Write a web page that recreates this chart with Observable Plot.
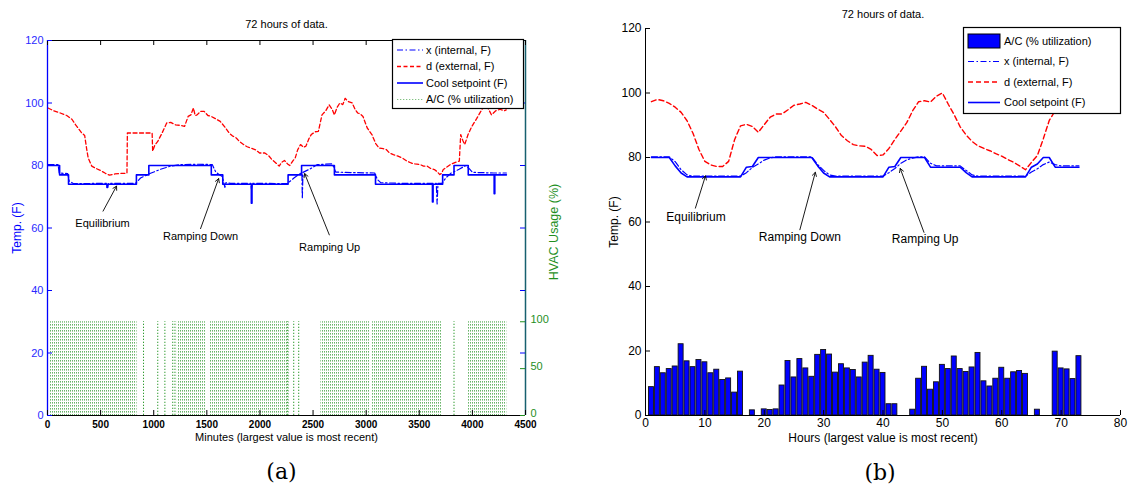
<!DOCTYPE html>
<html>
<head>
<meta charset="utf-8">
<script src="https://cdn.jsdelivr.net/npm/d3@7"></script>
<script src="https://cdn.jsdelivr.net/npm/@observablehq/plot@0.6"></script>
<style>
  body { margin: 0; background: #fff; }
  #root { position: relative; width: 1131px; height: 486px; overflow: hidden; background: #fff;
          font-family: "Liberation Sans", Arial, Helvetica, sans-serif; }
  #root > svg { position: absolute; top: 0; }
</style>
</head>
<body>
<div id="root"></div>
<script>
// ---------- Panel (a): minute-resolution trace ----------
const minuteTicks = [0, 500, 1000, 1500, 2000, 2500, 3000, 3500, 4000, 4500];
const tempTicks = [0, 20, 40, 60, 80, 100, 120];
const hvacTicks = [0, 50, 100];

// cool setpoint [minute, F] (drawn as a step line, short dips included)
const setpointMin = [[5,80],[114,77],[198,74],[560,73],[566,74],[837,77],[954,80],[1542,77],[1650,74],
  [1919,67.9],[1925,74],[2265,77],[2392,80],[2701,77],[3088,74],[3624,68.3],[3630,74],[3720,77],
  [3827,80],[3961,77],[4205,71],[4211,77],[4320,77]];

// internal temperature x [minute, F]
const internalMin = [[5,80.3],[100,80.3],[110,77.6],[190,77.4],[205,75],[240,74.3],[280,74.2],[560,74.3],
  [565,73],[575,74.3],[829,74.3],[876,76],[970,77.5],[1064,78.8],[1159,79.8],[1253,80.3],[1400,80.4],
  [1551,80.3],[1583,78],[1614,77.1],[1645,76.5],[1670,73],[1680,74.5],[1724,74.3],[1915,74.3],[1920,72.5],
  [1930,74.3],[2258,74.2],[2320,76],[2383,77.5],[2395,77.5],[2399,69.4],[2405,77.8],[2477,79],[2541,80.3],
  [2682,80.5],[2713,77.9],[2900,77.7],[3080,77.6],[3106,75.5],[3137,74.5],[3300,74.3],[3660,74.3],
  [3668,67.7],[3676,74.3],[3713,74.3],[3749,76],[3796,77.5],[3875,78.8],[3938,80],[3970,79],[4001,77.8],
  [4200,77.6],[4320,77.6]];

// external temperature d [minute, F]
const externalMin = [[5,98.4],[60,97.5],[120,96.8],[181,96],[230,94.8],[265,93],[320,90.5],[350,89.6],
  [370,85],[383,82.4],[417,79.8],[460,79],[500,78.4],[545,77.5],[585,76.9],[635,77.3],[700,77.5],[748,77.5],
  [752,90.4],[985,90.4],[990,84.6],[1010,86.5],[1038,87.7],[1080,90.5],[1122,93.6],[1160,93.8],[1206,93],
  [1260,92.8],[1290,92.5],[1324,95.7],[1350,96.2],[1374,98.4],[1390,96],[1408,96.2],[1440,97.3],[1475,97.3],
  [1510,96],[1542,95.7],[1580,95],[1626,94.1],[1670,92.3],[1710,90.4],[1740,89.5],[1777,88.8],[1810,87.6],
  [1845,86.7],[1880,86],[1912,85.6],[1960,85],[1996,84],[2046,84],[2080,83.2],[2113,81.9],[2150,80.8],
  [2181,79.8],[2205,81],[2231,81.6],[2260,80.5],[2281,80],[2310,81.5],[2332,82.4],[2355,85],[2382,86.7],
  [2410,85.8],[2433,86.2],[2460,88.5],[2483,89.9],[2520,90.8],[2550,90.9],[2570,94],[2584,96.2],[2620,97.5],
  [2651,99.4],[2680,98],[2701,96.2],[2725,98.5],[2752,100],[2780,99.5],[2802,101.5],[2830,100.5],[2869,100],
  [2895,98],[2920,96.8],[2945,96.5],[2970,95.7],[3010,92],[3054,89.9],[3090,87],[3121,85.6],[3160,85.4],
  [3189,85.1],[3220,84],[3256,83.5],[3300,83],[3340,82.4],[3380,81.5],[3424,80.8],[3460,80.5],[3508,80.3],
  [3540,79.8],[3575,79.8],[3610,79],[3642,78.7],[3670,78],[3693,77.1],[3710,77.5],[3726,78.7],[3760,79.5],
  [3793,80.3],[3840,81],[3877,81.4],[3890,89.9],[3910,88],[3928,86.7],[3960,90],[3995,92.5],[4040,95],
  [4079,97.3],[4100,98.5],[4130,99.4],[4160,97.5],[4180,96.2],[4220,97.5],[4260,98],[4300,97.5],[4318,97.8]];

// A/C on/off cycling: spans of dense cycling [start, end] and lone cycles (minutes)
const acSpans = [[20,843],[1223,1492],[1525,2275],[2574,3040],[3060,3716],[3961,4324]];
const acSingles = [904,1038,1105,1179,1200,2258,2318,2365,3827];
const acOnLevel = 100; // percent

// ---------- Panel (b): hourly averages, hours 1..73 ----------
const hourTicks = [0, 10, 20, 30, 40, 50, 60, 70, 80];
const hourlyAC = [8.8,15.0,13.1,14.4,15.2,22.1,16.8,15.0,17.2,16.5, 13.1,14.2,11.0,11.5,7.1,13.6,0,1.6,0,1.9,
  1.7,1.9,9.3,16.9,11.8,17.5,14.6,12.0,18.8,20.3, 18.9,13.3,15.9,14.6,14.1,11.8,16.4,18.5,14.2,13.2,
  3.5,3.5,0,0,1.8,11.4,15.1,8.0,10.3,15.7, 14.4,18.3,14.4,13.5,14.9,19.4,10.6,9.0,11.4,14.8,
  11.4,13.4,13.8,12.9,0,1.8,0,0,19.8,14.6, 14.3,11.3,18.4];
const hourlySetpoint = [80,80,80,80,77.4,75.2,74,74,74,74, 74,74,74,74,74,74,77,77.2,80,80,
  80,80,80,80,80,80,80,80,77.4,75.2, 74,74,74,74,74,74,74,74,74,74, 77,77.2,80,80,80,80,80,77,77,77,
  77,77,77,75.3,74,74,74,74,74,74, 74,74,74,74,77,78,80,80,77,77, 77,77,77];
const hourlyInternal = [80.2,80.2,80.2,80.2,78.7,76.2,74.6,74.2,74.2,74.2, 74.2,74.2,74.2,74.2,74.2,74.2,75.3,76.9,78,79.2,
  79.9,80.2,80.2,80.2,80.2,80.2,80.2,80.2,77.8,76, 74.6,74.2,74.2,74.2,74.2,74.2,74.2,74.2,74.2,74.2,
  75.3,76.6,78.2,79.3,79.8,80.2,80.2,78.2,77.4,77.4, 77.4,77.4,77.4,76,74.6,74.2,74.2,74.2,74.2,74.2,
  74.2,74.2,74.2,74.2,75.5,76.5,77.8,78.6,77.8,77.4, 77.4,77.4,77.4];
const hourlyExternal = [97.3,98,97.6,96.8,95.6,94,91.4,87.5,82.5,78.8, 77.7,77.2,77.2,78.8,85.5,89.8,90.3,89.6,87.8,90.2,
  92.5,93.5,93.5,94.8,96.2,96.6,97.1,96.2,95,94, 91.8,89.5,86.8,85.2,84,83.6,83.5,82.5,80.6,80.8,
  82.8,85.6,88.2,90.8,94.5,97.3,97.6,97.2,99,100, 96.5,93.2,89.5,87,85,83.6,82.8,82.1,81.2,80.4,
  79.4,78.5,77.4,76.2,78.5,80.6,85.8,91.5,94.5,96.5, 97.5,98.2,98.6];

// callouts: label text, label anchor, arrow tail and arrow tip
const calloutsA = [
  {text: "Equilibrium",   tx: 518,  ty: 61.4, x1: 523,  y1: 65.4, x2: 650,  y2: 73.4},
  {text: "Ramping Down",  tx: 1441, ty: 57.2, x1: 1441, y1: 59.8, x2: 1611, y2: 75.8},
  {text: "Ramping Up",    tx: 2656, ty: 53.8, x1: 2653, y1: 57.8, x2: 2421, y2: 77.4}
];
const calloutsB = [
  {text: "Equilibrium",   tx: 8.5,  ty: 61.5, x1: 8.4,  y1: 64.3, x2: 10.1, y2: 74.3},
  {text: "Ramping Down",  tx: 26,   ty: 55.2, x1: 26,   y1: 57.6, x2: 28.6, y2: 75.4},
  {text: "Ramping Up",    tx: 47.1, ty: 54.6, x1: 46.9, y1: 56.8, x2: 42.9, y2: 76.6}
];

// ---------- shared styling ----------
const FONT = '"Liberation Sans", Arial, Helvetica, sans-serif';
const SERIF = '"DejaVu Serif", serif';
const BLUE = "#0000ff";
const RED = "#ff0000";
const GREEN = "#1f8f1f";
const TEAL = "#17606f";
const DASHDOT = "6,2.5,1.5,2.5";
const HV = 120 / 400; // right-hand HVAC axis runs 0..400 % against 0..120 F
const centered = {textAnchor: "middle", lineAnchor: "middle"};

const root = document.getElementById("root");

// ---------- panel (a) ----------
const aW = 570, aH = 486, aML = 47, aMR = 45, aMT = 40, aMB = 71;
const aPW = aW - aML - aMR, aPH = aH - aMT - aMB;

const rowsA = d => ({m: d[0], v: d[1]});
const panelA = Plot.plot({
  width: aW, height: aH,
  marginLeft: aML, marginRight: aMR, marginTop: aMT, marginBottom: aMB,
  x: {domain: [0, 4500], label: null},
  y: {domain: [0, 120], label: null},
  style: {fontFamily: FONT, fontSize: "11px", background: "transparent", overflow: "visible"},
  marks: [
    Plot.rect(acSpans, {x1: d => d[0], x2: d => d[1], y1: 0, y2: acOnLevel * HV, fill: "url(#acCycling)"}),
    Plot.ruleX(acSingles, {x: d => d, y1: 0, y2: acOnLevel * HV, stroke: "#2f9a2f", strokeDasharray: "1.3,1.7", strokeWidth: 1}),
    Plot.line(externalMin.map(rowsA), {x: "m", y: "v", stroke: RED, strokeWidth: 1.3, strokeDasharray: "4,2.5"}),
    Plot.line(setpointMin.map(rowsA), {x: "m", y: "v", curve: "step-after", stroke: BLUE, strokeWidth: 1.6}),
    Plot.line(internalMin.map(rowsA), {x: "m", y: "v", stroke: BLUE, strokeWidth: 1.2, strokeDasharray: DASHDOT}),
    // box
    Plot.ruleY([0, 120], {stroke: "black", strokeWidth: 1}),
    Plot.ruleX([0], {stroke: BLUE, strokeWidth: 1.3}),
    Plot.ruleX([4500], {stroke: TEAL, strokeWidth: 1.5}),
    // inward ticks
    Plot.tickX(minuteTicks, {x: d => d, insetTop: aPH - 5, stroke: "black"}),
    Plot.tickX(minuteTicks, {x: d => d, insetBottom: aPH - 5, stroke: "black"}),
    Plot.tickY(tempTicks, {y: d => d, insetRight: aPW - 5, stroke: BLUE}),
    Plot.tickY(tempTicks.slice(1, 6), {y: d => d, insetLeft: aPW - 5, stroke: BLUE}),
    Plot.tickY(hvacTicks, {y: d => d * HV, insetLeft: aPW - 5, stroke: GREEN}),
    // tick labels
    Plot.axisX(minuteTicks, {tickSize: 0, tickPadding: 5, fontSize: 10, fontWeight: "bold", tickFormat: d => String(d), label: null}),
    Plot.axisY(tempTicks, {tickSize: 0, tickPadding: 4, color: "#2a2aff", tickFormat: d => String(d), label: null}),
    Plot.text(hvacTicks, {y: d => d * HV, text: d => String(d), frameAnchor: "right", dx: 5, dy: -2, textAnchor: "start", lineAnchor: "middle", fill: GREEN}),
    // callouts
    Plot.arrow(calloutsA, {x1: "x1", y1: "y1", x2: "x2", y2: "y2", stroke: "black", strokeWidth: 0.9, headLength: 7}),
    Plot.text(calloutsA, {x: "tx", y: "ty", text: "text", fontSize: 11, fill: "black"}),
    // titles and axis labels
    Plot.text(["72 hours of data."], {frameAnchor: "top", dy: -16, fontSize: 11, ...centered}),
    Plot.text(["Minutes (largest value is most recent)"], {frameAnchor: "bottom", dy: 22, fontSize: 11, ...centered}),
    Plot.text(["Temp. (F)"], {frameAnchor: "left", dx: -30, rotate: -90, fontSize: 12, fill: BLUE, ...centered}),
    Plot.text(["HVAC Usage (%)"], {frameAnchor: "right", dx: 28, dy: 4, rotate: -90, fontSize: 12.5, fill: GREEN, ...centered}),
    Plot.text(["(a)"], {frameAnchor: "bottom", dy: 56, dx: -5, fontSize: 22, fontFamily: SERIF, ...centered})
  ]
});

// dotted cycling texture for the A/C spans
const defs = d3.select(panelA).insert("defs", ":first-child");
const pat = defs.append("pattern").attr("id", "acCycling")
  .attr("patternUnits", "userSpaceOnUse").attr("width", 2).attr("height", 3);
pat.append("rect").attr("x", 0).attr("y", 0).attr("width", 1).attr("height", 1.6)
  .attr("fill", "#2a952a").attr("fill-opacity", 0.7);

panelA.style.left = "0px";
root.appendChild(panelA);

// ---------- panel (b) ----------
const bW = 561, bH = 486, bML = 75, bMR = 11, bMT = 28, bMB = 71;
const bPW = bW - bML - bMR, bPH = bH - bMT - bMB;

const hourRows = vals => vals.map((v, i) => ({h: i + 1, v}));
const barRows = hourRows(hourlyAC).filter(d => d.v > 0);
const barHalf = 0.42;

const panelB = Plot.plot({
  width: bW, height: bH,
  marginLeft: bML, marginRight: bMR, marginTop: bMT, marginBottom: bMB,
  x: {domain: [0, 80], label: null},
  y: {domain: [0, 120], label: null},
  style: {fontFamily: FONT, fontSize: "12px", background: "transparent", overflow: "visible"},
  marks: [
    Plot.rect(barRows, {x1: d => d.h - barHalf, x2: d => d.h + barHalf, y1: 0, y2: "v", fill: BLUE, stroke: "#111", strokeWidth: 0.9}),
    Plot.line(hourRows(hourlyExternal), {x: "h", y: "v", stroke: RED, strokeWidth: 1.4, strokeDasharray: "5,3"}),
    Plot.line(hourRows(hourlySetpoint), {x: "h", y: "v", stroke: BLUE, strokeWidth: 1.6}),
    Plot.line(hourRows(hourlyInternal), {x: "h", y: "v", stroke: BLUE, strokeWidth: 1.2, strokeDasharray: DASHDOT}),
    Plot.ruleY([0], {stroke: "black", strokeWidth: 1}),
    Plot.ruleX([0], {stroke: "black", strokeWidth: 1}),
    Plot.tickX(hourTicks, {x: d => d, insetTop: bPH - 5, stroke: "black"}),
    Plot.tickY(tempTicks, {y: d => d, insetRight: bPW - 5, stroke: "black"}),
    Plot.axisX(hourTicks, {tickSize: 0, tickPadding: 3, tickFormat: d => String(d), label: null}),
    Plot.axisY(tempTicks, {tickSize: 0, tickPadding: 4, tickFormat: d => String(d), label: null}),
    Plot.arrow(calloutsB, {x1: "x1", y1: "y1", x2: "x2", y2: "y2", stroke: "black", strokeWidth: 0.9, headLength: 7}),
    Plot.text(calloutsB, {x: "tx", y: "ty", text: "text", fontSize: 12, fill: "black"}),
    Plot.text(["72 hours of data."], {frameAnchor: "top", dy: -14, fontSize: 11, ...centered}),
    Plot.text(["Hours (largest value is most recent)"], {frameAnchor: "bottom", dy: 22.5, fontSize: 12, ...centered}),
    Plot.text(["Temp. (F)"], {frameAnchor: "left", dx: -31, rotate: -90, fontSize: 12, ...centered}),
    Plot.text(["(b)"], {frameAnchor: "bottom", dy: 57, dx: -3, fontSize: 22, fontFamily: SERIF, ...centered})
  ]
});
panelB.style.left = "570px";
root.appendChild(panelB);

// ---------- legends ----------
const leg = d3.select(root).append("svg")
  .attr("width", 1131).attr("height", 486)
  .style("left", "0px").style("pointer-events", "none")
  .style("font-family", FONT).style("font-size", "11px");

function legend(g, box, rows) {
  g.append("rect").attr("x", box.x).attr("y", box.y).attr("width", box.w).attr("height", box.h)
    .attr("fill", "white").attr("stroke", "black").attr("stroke-width", 1.2);
  rows.forEach(r => {
    if (r.kind === "patch") {
      g.append("rect").attr("x", box.sx0).attr("y", r.y - 7).attr("width", box.sx1 - box.sx0).attr("height", 14)
        .attr("fill", BLUE).attr("stroke", "black").attr("stroke-width", 1);
    } else {
      g.append("line").attr("x1", box.sx0).attr("x2", box.sx1).attr("y1", r.y).attr("y2", r.y)
        .attr("stroke", r.stroke).attr("stroke-width", r.width).attr("stroke-dasharray", r.dash || null)
        .attr("stroke-opacity", r.opacity || 1);
    }
    g.append("text").attr("x", box.tx).attr("y", r.y).attr("dy", "0.35em").attr("fill", "black").text(r.label);
  });
}

legend(leg.append("g"), {x: 392.5, y: 39.5, w: 131, h: 69, sx0: 397, sx1: 423, tx: 426}, [
  {label: "x (internal, F)", y: 50, stroke: BLUE, width: 1.2, dash: DASHDOT},
  {label: "d (external, F)", y: 66.5, stroke: RED, width: 1.4, dash: "4,2.5"},
  {label: "Cool setpoint (F)", y: 83, stroke: BLUE, width: 1.6},
  {label: "A/C (% utilization)", y: 99.5, stroke: "#2f9a2f", width: 1, dash: "1.3,1.7", opacity: 0.6}
]);

legend(leg.append("g"), {x: 963.5, y: 27.5, w: 157, h: 86, sx0: 968, sx1: 1000, tx: 1004}, [
  {label: "A/C (% utilization)", y: 41, kind: "patch"},
  {label: "x (internal, F)", y: 61.5, stroke: BLUE, width: 1.2, dash: DASHDOT},
  {label: "d (external, F)", y: 82, stroke: RED, width: 1.4, dash: "5,3"},
  {label: "Cool setpoint (F)", y: 102.5, stroke: BLUE, width: 1.6}
]);
</script>
</body>
</html>
